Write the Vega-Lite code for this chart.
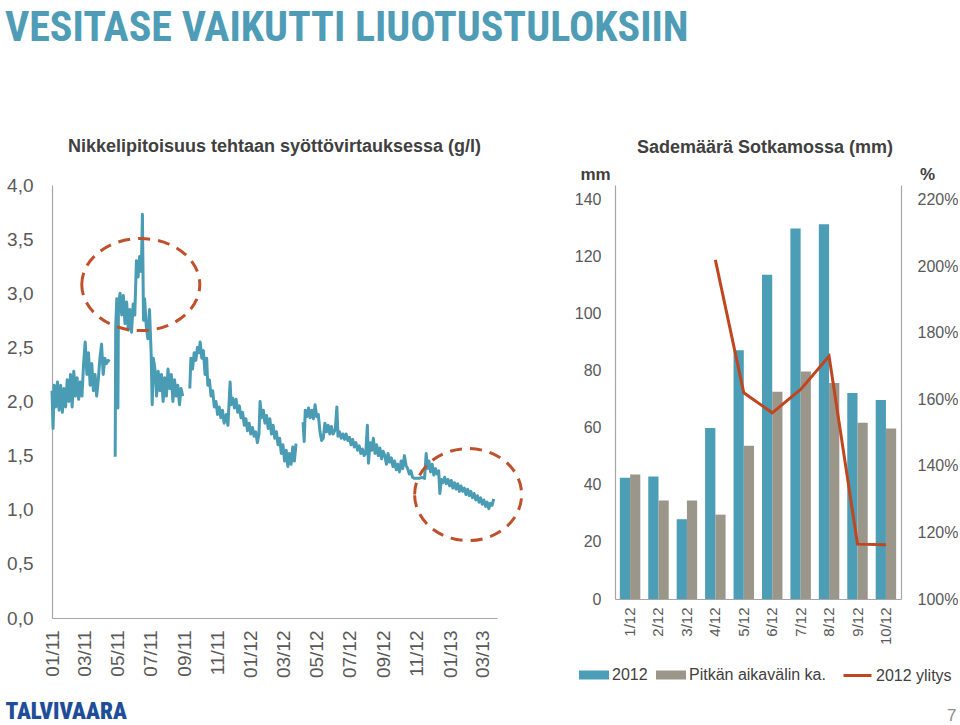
{
  "$schema": "https://vega.github.io/schema/vega-lite/v6.json",
  "padding": {"left": 5, "top": 7, "right": 0, "bottom": 0},
  "background": "white",
  "config": {
    "view": {"stroke": null},
    "font": "Liberation Sans",
    "axis": {"labelFont": "Liberation Sans", "titleFont": "Liberation Sans", "labelColor": "#595959", "domainColor": "#A6A6A6", "domainWidth": 1.2, "ticks": false, "grid": false}
  },
  "title": {"text": "VESITASE VAIKUTTI LIUOTUSTULOKSIIN", "anchor": "start", "frame": "bounds", "font": "Roboto Condensed, DejaVu Sans Condensed, Liberation Sans", "fontSize": 42, "fontWeight": "bold", "color": "#4E9CB5", "offset": 88},
  "bounds": "flush",
  "spacing": 118,
  "resolve": {"scale": {"color": "independent", "stroke": "independent"}, "legend": {"color": "independent", "stroke": "independent"}},
  "hconcat": [
    {
      "width": 445,
      "height": 433,
      "title": {"text": "Nikkelipitoisuus tehtaan syöttövirtauksessa (g/l)", "font": "Liberation Sans", "fontSize": 18, "fontWeight": "bold", "color": "#404040", "offset": 20},
      "layer": [
        {
          "data": {"values": [
            {"date": "2011-01-01", "value": 2.10}, {"date": "2011-01-03", "value": 1.75}, {"date": "2011-01-05", "value": 2.15}, {"date": "2011-01-08", "value": 1.95},
            {"date": "2011-01-11", "value": 2.18}, {"date": "2011-01-14", "value": 1.92}, {"date": "2011-01-17", "value": 2.15}, {"date": "2011-01-20", "value": 1.90},
            {"date": "2011-01-23", "value": 2.12}, {"date": "2011-01-26", "value": 1.95}, {"date": "2011-01-29", "value": 2.20}, {"date": "2011-02-01", "value": 2.00},
            {"date": "2011-02-04", "value": 2.25}, {"date": "2011-02-07", "value": 1.95}, {"date": "2011-02-10", "value": 2.28}, {"date": "2011-02-13", "value": 2.05},
            {"date": "2011-02-16", "value": 2.22}, {"date": "2011-02-19", "value": 2.02}, {"date": "2011-02-22", "value": 2.18}, {"date": "2011-02-25", "value": 2.05},
            {"date": "2011-02-28", "value": 2.35}, {"date": "2011-03-03", "value": 2.55}, {"date": "2011-03-06", "value": 2.25}, {"date": "2011-03-09", "value": 2.45},
            {"date": "2011-03-12", "value": 2.15}, {"date": "2011-03-15", "value": 2.35}, {"date": "2011-03-18", "value": 2.10}, {"date": "2011-03-21", "value": 2.25},
            {"date": "2011-03-24", "value": 2.05}, {"date": "2011-03-27", "value": 2.20}, {"date": "2011-03-30", "value": 2.40}, {"date": "2011-04-02", "value": 2.53},
            {"date": "2011-04-05", "value": 2.25}, {"date": "2011-04-08", "value": 2.40}, {"date": "2011-04-11", "value": 2.35}, {"date": "2011-04-14", "value": 2.38},
            {"date": "2011-04-17", "value": 2.37}, {"date": "2011-04-22", "value": null},
            {"date": "2011-04-27", "value": 1.49}, {"date": "2011-04-28", "value": 2.70}, {"date": "2011-04-30", "value": 2.95}, {"date": "2011-05-02", "value": 1.94},
            {"date": "2011-05-03", "value": 2.90}, {"date": "2011-05-06", "value": 3.00}, {"date": "2011-05-09", "value": 2.80}, {"date": "2011-05-12", "value": 2.98},
            {"date": "2011-05-15", "value": 2.72}, {"date": "2011-05-18", "value": 2.92}, {"date": "2011-05-21", "value": 2.66}, {"date": "2011-05-24", "value": 2.85},
            {"date": "2011-05-27", "value": 2.64}, {"date": "2011-05-30", "value": 2.90}, {"date": "2011-06-02", "value": 2.80}, {"date": "2011-06-05", "value": 3.30},
            {"date": "2011-06-08", "value": 3.15}, {"date": "2011-06-11", "value": 3.34}, {"date": "2011-06-14", "value": 3.20}, {"date": "2011-06-16", "value": 3.73},
            {"date": "2011-06-18", "value": 2.75}, {"date": "2011-06-20", "value": 2.95}, {"date": "2011-06-23", "value": 2.70}, {"date": "2011-06-26", "value": 2.58},
            {"date": "2011-06-29", "value": 2.85}, {"date": "2011-07-02", "value": 2.45}, {"date": "2011-07-04", "value": 1.97}, {"date": "2011-07-06", "value": 2.40},
            {"date": "2011-07-09", "value": 2.30}, {"date": "2011-07-12", "value": 2.05}, {"date": "2011-07-15", "value": 2.28}, {"date": "2011-07-18", "value": 2.10},
            {"date": "2011-07-21", "value": 2.25}, {"date": "2011-07-24", "value": 2.00}, {"date": "2011-07-27", "value": 2.22}, {"date": "2011-07-30", "value": 2.05},
            {"date": "2011-08-02", "value": 2.30}, {"date": "2011-08-05", "value": 2.12}, {"date": "2011-08-08", "value": 2.25}, {"date": "2011-08-11", "value": 2.00},
            {"date": "2011-08-14", "value": 2.20}, {"date": "2011-08-17", "value": 2.05}, {"date": "2011-08-20", "value": 2.15}, {"date": "2011-08-23", "value": 1.97},
            {"date": "2011-08-26", "value": 2.12}, {"date": "2011-08-29", "value": 2.05}, {"date": "2011-09-04", "value": null},
            {"date": "2011-09-11", "value": 2.12}, {"date": "2011-09-13", "value": 2.40}, {"date": "2011-09-16", "value": 2.30}, {"date": "2011-09-19", "value": 2.45},
            {"date": "2011-09-22", "value": 2.38}, {"date": "2011-09-25", "value": 2.50}, {"date": "2011-09-28", "value": 2.45}, {"date": "2011-09-30", "value": 2.55},
            {"date": "2011-10-03", "value": 2.40}, {"date": "2011-10-06", "value": 2.47}, {"date": "2011-10-09", "value": 2.25}, {"date": "2011-10-12", "value": 2.40},
            {"date": "2011-10-14", "value": 2.15}, {"date": "2011-10-17", "value": 2.20}, {"date": "2011-10-20", "value": 2.05}, {"date": "2011-10-23", "value": 2.10},
            {"date": "2011-10-26", "value": 1.95}, {"date": "2011-10-29", "value": 2.00}, {"date": "2011-11-01", "value": 1.88}, {"date": "2011-11-04", "value": 1.95},
            {"date": "2011-11-07", "value": 1.85}, {"date": "2011-11-10", "value": 1.92}, {"date": "2011-11-13", "value": 1.80}, {"date": "2011-11-17", "value": 1.88},
            {"date": "2011-11-20", "value": 1.78}, {"date": "2011-11-24", "value": 2.18}, {"date": "2011-11-26", "value": 1.97}, {"date": "2011-11-29", "value": 2.03},
            {"date": "2011-12-02", "value": 1.94}, {"date": "2011-12-05", "value": 2.02}, {"date": "2011-12-08", "value": 1.90}, {"date": "2011-12-11", "value": 1.96},
            {"date": "2011-12-14", "value": 1.85}, {"date": "2011-12-17", "value": 1.90}, {"date": "2011-12-20", "value": 1.78}, {"date": "2011-12-23", "value": 1.84},
            {"date": "2011-12-26", "value": 1.73}, {"date": "2011-12-29", "value": 1.80}, {"date": "2012-01-01", "value": 1.70}, {"date": "2012-01-04", "value": 1.76},
            {"date": "2012-01-07", "value": 1.68}, {"date": "2012-01-10", "value": 1.72}, {"date": "2012-01-13", "value": 1.62}, {"date": "2012-01-16", "value": 1.70},
            {"date": "2012-01-18", "value": 2.00}, {"date": "2012-01-21", "value": 1.85}, {"date": "2012-01-24", "value": 1.92}, {"date": "2012-01-27", "value": 1.80},
            {"date": "2012-01-30", "value": 1.87}, {"date": "2012-02-02", "value": 1.75}, {"date": "2012-02-05", "value": 1.84}, {"date": "2012-02-08", "value": 1.70},
            {"date": "2012-02-11", "value": 1.78}, {"date": "2012-02-14", "value": 1.66}, {"date": "2012-02-17", "value": 1.72}, {"date": "2012-02-20", "value": 1.60},
            {"date": "2012-02-23", "value": 1.66}, {"date": "2012-02-26", "value": 1.52}, {"date": "2012-02-29", "value": 1.60}, {"date": "2012-03-03", "value": 1.45},
            {"date": "2012-03-06", "value": 1.55}, {"date": "2012-03-09", "value": 1.40}, {"date": "2012-03-12", "value": 1.52}, {"date": "2012-03-15", "value": 1.42},
            {"date": "2012-03-18", "value": 1.58}, {"date": "2012-03-21", "value": 1.45}, {"date": "2012-03-24", "value": 1.61}, {"date": "2012-03-29", "value": null},
            {"date": "2012-04-06", "value": 1.81}, {"date": "2012-04-08", "value": 1.63}, {"date": "2012-04-10", "value": 1.92}, {"date": "2012-04-13", "value": 1.86},
            {"date": "2012-04-16", "value": 1.94}, {"date": "2012-04-19", "value": 1.85}, {"date": "2012-04-22", "value": 1.92}, {"date": "2012-04-25", "value": 1.84},
            {"date": "2012-04-28", "value": 1.97}, {"date": "2012-05-01", "value": 1.86}, {"date": "2012-05-04", "value": 1.88}, {"date": "2012-05-07", "value": 1.72},
            {"date": "2012-05-10", "value": 1.64}, {"date": "2012-05-13", "value": 1.66}, {"date": "2012-05-16", "value": 1.80}, {"date": "2012-05-19", "value": 1.72},
            {"date": "2012-05-22", "value": 1.78}, {"date": "2012-05-25", "value": 1.70}, {"date": "2012-05-28", "value": 1.77}, {"date": "2012-05-31", "value": 1.70},
            {"date": "2012-06-04", "value": 1.74}, {"date": "2012-06-07", "value": 1.95}, {"date": "2012-06-09", "value": 1.68}, {"date": "2012-06-12", "value": 1.72},
            {"date": "2012-06-15", "value": 1.66}, {"date": "2012-06-18", "value": 1.70}, {"date": "2012-06-21", "value": 1.65}, {"date": "2012-06-24", "value": 1.70},
            {"date": "2012-06-27", "value": 1.64}, {"date": "2012-06-30", "value": 1.67}, {"date": "2012-07-03", "value": 1.60}, {"date": "2012-07-06", "value": 1.65},
            {"date": "2012-07-09", "value": 1.58}, {"date": "2012-07-12", "value": 1.62}, {"date": "2012-07-15", "value": 1.55}, {"date": "2012-07-18", "value": 1.59},
            {"date": "2012-07-21", "value": 1.52}, {"date": "2012-07-24", "value": 1.56}, {"date": "2012-07-27", "value": 1.50}, {"date": "2012-07-30", "value": 1.52},
            {"date": "2012-08-02", "value": 1.78}, {"date": "2012-08-04", "value": 1.43}, {"date": "2012-08-07", "value": 1.62}, {"date": "2012-08-10", "value": 1.55},
            {"date": "2012-08-13", "value": 1.66}, {"date": "2012-08-16", "value": 1.52}, {"date": "2012-08-19", "value": 1.60}, {"date": "2012-08-22", "value": 1.50},
            {"date": "2012-08-25", "value": 1.57}, {"date": "2012-08-28", "value": 1.47}, {"date": "2012-08-31", "value": 1.54}, {"date": "2012-09-03", "value": 1.50},
            {"date": "2012-09-06", "value": 1.42}, {"date": "2012-09-09", "value": 1.52}, {"date": "2012-09-12", "value": 1.44}, {"date": "2012-09-15", "value": 1.48},
            {"date": "2012-09-18", "value": 1.40}, {"date": "2012-09-21", "value": 1.45}, {"date": "2012-09-24", "value": 1.37}, {"date": "2012-09-27", "value": 1.42},
            {"date": "2012-09-30", "value": 1.35}, {"date": "2012-10-03", "value": 1.45}, {"date": "2012-10-06", "value": 1.38}, {"date": "2012-10-09", "value": 1.50},
            {"date": "2012-10-12", "value": 1.41}, {"date": "2012-10-15", "value": 1.38}, {"date": "2012-10-18", "value": 1.33}, {"date": "2012-10-21", "value": 1.36},
            {"date": "2012-10-24", "value": 1.30}, {"date": "2012-10-27", "value": 1.29}, {"date": "2012-10-31", "value": 1.29}, {"date": "2012-11-05", "value": 1.29},
            {"date": "2012-11-10", "value": 1.30}, {"date": "2012-11-15", "value": 1.29}, {"date": "2012-11-18", "value": 1.52}, {"date": "2012-11-20", "value": 1.38},
            {"date": "2012-11-23", "value": 1.45}, {"date": "2012-11-26", "value": 1.35}, {"date": "2012-11-29", "value": 1.42}, {"date": "2012-12-02", "value": 1.32},
            {"date": "2012-12-05", "value": 1.38}, {"date": "2012-12-08", "value": 1.33}, {"date": "2012-12-11", "value": 1.36}, {"date": "2012-12-13", "value": 1.15},
            {"date": "2012-12-16", "value": 1.28}, {"date": "2012-12-19", "value": 1.25}, {"date": "2012-12-22", "value": 1.30}, {"date": "2012-12-25", "value": 1.24},
            {"date": "2012-12-28", "value": 1.28}, {"date": "2012-12-31", "value": 1.22}, {"date": "2013-01-03", "value": 1.27}, {"date": "2013-01-06", "value": 1.20},
            {"date": "2013-01-09", "value": 1.25}, {"date": "2013-01-12", "value": 1.19}, {"date": "2013-01-15", "value": 1.24}, {"date": "2013-01-18", "value": 1.17},
            {"date": "2013-01-21", "value": 1.22}, {"date": "2013-01-24", "value": 1.17}, {"date": "2013-01-27", "value": 1.20}, {"date": "2013-01-30", "value": 1.14},
            {"date": "2013-02-02", "value": 1.19}, {"date": "2013-02-05", "value": 1.13}, {"date": "2013-02-08", "value": 1.17}, {"date": "2013-02-11", "value": 1.11},
            {"date": "2013-02-14", "value": 1.15}, {"date": "2013-02-17", "value": 1.09}, {"date": "2013-02-20", "value": 1.13}, {"date": "2013-02-23", "value": 1.07},
            {"date": "2013-02-26", "value": 1.11}, {"date": "2013-03-01", "value": 1.05}, {"date": "2013-03-04", "value": 1.09}, {"date": "2013-03-07", "value": 1.03},
            {"date": "2013-03-10", "value": 1.07}, {"date": "2013-03-13", "value": 1.01}, {"date": "2013-03-16", "value": 1.06}, {"date": "2013-03-19", "value": 1.04},
            {"date": "2013-03-22", "value": 1.10}
          ]},
          "mark": {"type": "line", "color": "#4A9BB4", "strokeWidth": 3, "strokeJoin": "round", "invalid": "break-paths-filter-domains"},
          "encoding": {
            "x": {
              "field": "date", "type": "temporal",
              "scale": {"type": "utc", "domain": [{"year": 2011, "month": 1, "date": 1, "utc": true}, {"year": 2013, "month": 3, "date": 28, "utc": true}]},
              "axis": {
                "title": "TALVIVAARA", "format": "%m/%y", "tickCount": {"interval": "month", "step": 2},
                "labelAngle": -90, "labelFontSize": 19, "labelPadding": 12, "labelFlush": false, "labelOverlap": false,
                "titleFont": "Roboto Condensed, DejaVu Sans Condensed, Liberation Sans", "titleFontSize": 23, "titleFontWeight": 900, "titleColor": "#1F4E99",
                "titleAnchor": "start", "titleAlign": "left", "titleBaseline": "alphabetic", "titleX": -47, "titleY": 100
              }
            },
            "y": {
              "field": "value", "type": "quantitative",
              "scale": {"domain": [0, 4], "nice": false},
              "axis": {
                "title": null, "values": [0, 0.5, 1, 1.5, 2, 2.5, 3, 3.5, 4],
                "labelExpr": "replace(format(datum.value, '.1f'), '.', ',')",
                "labelFontSize": 19, "labelPadding": 19
              }
            }
          }
        },
        {
          "data": {"values": [{"date": "2011-06-13", "value": 3.08}]},
          "mark": {"type": "point", "shape": "M -1 0 A 1 0.78 0 1 1 1 0 A 1 0.78 0 1 1 -1 0 Z", "size": 13924, "filled": false, "stroke": "#C0502A", "strokeWidth": 3, "strokeDash": [12, 8], "opacity": 1},
          "encoding": {
            "x": {"field": "date", "type": "temporal"},
            "y": {"field": "value", "type": "quantitative"}
          }
        },
        {
          "data": {"values": [{"date": "2013-02-03", "value": 1.14}]},
          "mark": {"type": "point", "shape": "M -1 0 A 1 0.86 0 1 1 1 0 A 1 0.86 0 1 1 -1 0 Z", "size": 11449, "filled": false, "stroke": "#C0502A", "strokeWidth": 3, "strokeDash": [12, 8], "opacity": 1},
          "encoding": {
            "x": {"field": "date", "type": "temporal"},
            "y": {"field": "value", "type": "quantitative"}
          }
        }
      ]
    },
    {
      "width": 286,
      "height": 414,
      "title": {"text": "Sademäärä Sotkamossa (mm)", "font": "Liberation Sans", "fontSize": 18, "fontWeight": "bold", "color": "#404040", "offset": 8, "dx": 7},
      "layer": [
        {
          "data": {"values": [
            {"month": "1/12", "series": "2012", "mm": 42.5}, {"month": "1/12", "series": "Pitkän aikavälin ka.", "mm": 43.7},
            {"month": "2/12", "series": "2012", "mm": 43.0}, {"month": "2/12", "series": "Pitkän aikavälin ka.", "mm": 34.6},
            {"month": "3/12", "series": "2012", "mm": 28.0}, {"month": "3/12", "series": "Pitkän aikavälin ka.", "mm": 34.6},
            {"month": "4/12", "series": "2012", "mm": 60.0}, {"month": "4/12", "series": "Pitkän aikavälin ka.", "mm": 29.6},
            {"month": "5/12", "series": "2012", "mm": 87.3}, {"month": "5/12", "series": "Pitkän aikavälin ka.", "mm": 53.8},
            {"month": "6/12", "series": "2012", "mm": 113.8}, {"month": "6/12", "series": "Pitkän aikavälin ka.", "mm": 72.7},
            {"month": "7/12", "series": "2012", "mm": 130.0}, {"month": "7/12", "series": "Pitkän aikavälin ka.", "mm": 79.8},
            {"month": "8/12", "series": "2012", "mm": 131.5}, {"month": "8/12", "series": "Pitkän aikavälin ka.", "mm": 75.8},
            {"month": "9/12", "series": "2012", "mm": 72.3}, {"month": "9/12", "series": "Pitkän aikavälin ka.", "mm": 61.8},
            {"month": "10/12", "series": "2012", "mm": 69.8}, {"month": "10/12", "series": "Pitkän aikavälin ka.", "mm": 59.8}
          ]},
          "mark": {"type": "bar"},
          "encoding": {
            "x": {
              "field": "month", "type": "nominal", "sort": null,
              "scale": {"domain": ["1/12", "2/12", "3/12", "4/12", "5/12", "6/12", "7/12", "8/12", "9/12", "10/12"], "paddingInner": 0.28, "paddingOuter": 0.17},
              "axis": {
                "title": "7", "labelAngle": -90, "labelFontSize": 15, "labelPadding": 8,
                "titleFont": "Liberation Sans", "titleFontSize": 17, "titleFontWeight": "normal", "titleColor": "#8C8C8C",
                "titleAnchor": "start", "titleAlign": "right", "titleBaseline": "alphabetic", "titleX": 341, "titleY": 121
              }
            },
            "xOffset": {"field": "series", "type": "nominal", "sort": ["2012", "Pitkän aikavälin ka."], "scale": {"paddingInner": 0, "paddingOuter": 0}},
            "y": {
              "field": "mm", "type": "quantitative",
              "scale": {"domain": [0, 145.26], "nice": false},
              "axis": {
                "title": "mm", "values": [0, 20, 40, 60, 80, 100, 120, 140], "labelFontSize": 16, "labelPadding": 14,
                "titleAngle": 0, "titleX": -20, "titleY": -11, "titleAlign": "center", "titleBaseline": "middle",
                "titleFontSize": 17, "titleFontWeight": "bold", "titleColor": "#404040"
              }
            },
            "color": {
              "field": "series", "type": "nominal",
              "scale": {"domain": ["2012", "Pitkän aikavälin ka."], "range": ["#4C9DB6", "#9B968A"]},
              "legend": {
                "orient": "none", "legendX": -36, "legendY": 475, "direction": "horizontal", "title": null,
                "symbolType": "M-1,-0.3H1V0.3H-1Z", "symbolSize": 900, "symbolStrokeWidth": 0,
                "labelFont": "Liberation Sans", "labelFontSize": 16, "labelColor": "#404040", "labelOffset": 3, "columnPadding": 8
              }
            }
          }
        },
        {
          "data": {"values": [
            {"month": "4/12", "pct": 2.02}, {"month": "5/12", "pct": 1.62}, {"month": "6/12", "pct": 1.56},
            {"month": "7/12", "pct": 1.63}, {"month": "8/12", "pct": 1.73}, {"month": "9/12", "pct": 1.165}, {"month": "10/12", "pct": 1.163}
          ]},
          "mark": {"type": "line", "strokeWidth": 3},
          "encoding": {
            "x": {"field": "month", "type": "nominal", "sort": null},
            "y": {
              "field": "pct", "type": "quantitative",
              "scale": {"domain": [1.0, 2.2451], "nice": false},
              "axis": {
                "orient": "right", "title": "%", "values": [1.0, 1.2, 1.4, 1.6, 1.8, 2.0, 2.2], "format": ".0%",
                "labelFontSize": 16, "labelPadding": 16,
                "titleAngle": 0, "titleX": 26, "titleY": -11, "titleAlign": "center", "titleBaseline": "middle",
                "titleFontSize": 17, "titleFontWeight": "bold", "titleColor": "#404040"
              }
            },
            "stroke": {
              "datum": "2012 ylitys",
              "scale": {"range": ["#C0461F"]},
              "legend": {
                "orient": "none", "legendX": 227, "legendY": 475, "title": null,
                "symbolType": "stroke", "symbolSize": 784, "symbolStrokeWidth": 3,
                "labelFont": "Liberation Sans", "labelFontSize": 16, "labelColor": "#404040", "labelOffset": 3
              }
            }
          }
        }
      ],
      "resolve": {"scale": {"y": "independent"}}
    }
  ]
}
